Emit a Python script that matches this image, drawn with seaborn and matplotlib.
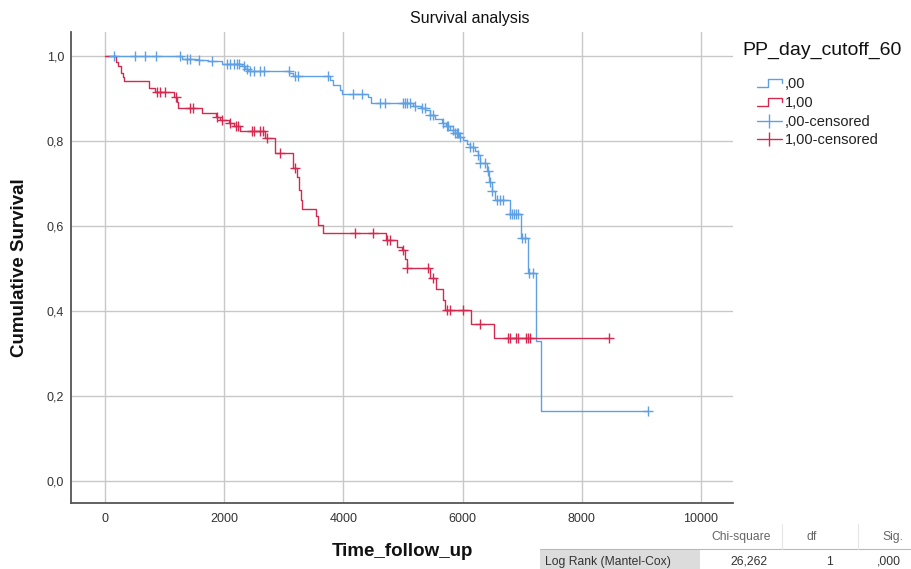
import numpy as np
import pandas as pd
import matplotlib
matplotlib.use("Agg")
import matplotlib.pyplot as plt
import seaborn as sns
from matplotlib.lines import Line2D
from matplotlib.patches import Rectangle
from matplotlib.legend_handler import HandlerBase

# ---------------- data ----------------
group_labels = [",00", "1,00"]
censor_labels = [",00-censored", "1,00-censored"]

g0_step_times = [1290, 1566, 1734, 1958, 2294, 2350, 2406, 3090, 3160, 3768, 3824, 3936, 3975,
                 4420, 4459, 5175, 5300, 5371, 5454, 5539, 5651, 5720, 5791, 5870, 5940, 6004,
                 6071, 6126, 6210, 6266, 6294, 6406, 6440, 6490, 6546, 6798, 6976, 7105, 7234, 7320]
g0_step_surv = [0.993, 0.990, 0.987, 0.980, 0.975, 0.969, 0.965, 0.959, 0.953, 0.943, 0.931, 0.919, 0.911,
                0.904, 0.890, 0.883, 0.878, 0.873, 0.861, 0.851, 0.842, 0.834, 0.826, 0.818, 0.810, 0.802,
                0.793, 0.785, 0.776, 0.767, 0.748, 0.728, 0.704, 0.681, 0.660, 0.627, 0.571, 0.489, 0.330, 0.165]
g0_censor_times = [151, 504, 671, 856, 1259, 1371, 1427, 1585, 1790, 2042, 2100, 2160, 2210, 2254,
                   2330, 2380, 2440, 2500, 2602, 2660, 3081, 3189, 3245, 3749, 4168, 4308, 4616, 4700,
                   5007, 5040, 5063, 5119, 5200, 5315, 5370, 5454, 5510, 5679, 5740, 5760, 5846, 5870,
                   5900, 5930, 5959, 6126, 6180, 6266, 6294, 6378, 6420, 6462, 6500, 6574, 6630, 6686,
                   6798, 6830, 6860, 6890, 6938, 6993, 7049, 7122, 7178, 9119]

g1_step_times = [185, 224, 263, 297, 320, 745, 840, 1158, 1200, 1231, 1625, 1866, 1933, 2073, 2157,
                 2269, 2686, 2853, 3150, 3217, 3262, 3290, 3312, 3536, 3581, 3665, 4716, 4895, 4990,
                 5035, 5063, 5455, 5555, 5667, 5706, 6137, 6534]
g1_step_surv = [0.986, 0.975, 0.959, 0.951, 0.940, 0.925, 0.916, 0.904, 0.891, 0.878, 0.865, 0.857,
                0.849, 0.842, 0.834, 0.823, 0.806, 0.771, 0.736, 0.716, 0.685, 0.661, 0.640, 0.622,
                0.602, 0.583, 0.567, 0.551, 0.542, 0.522, 0.500, 0.477, 0.451, 0.426, 0.402, 0.369, 0.337]
g1_censor_times = [868, 924, 1008, 1193, 1418, 1474, 1882, 1961, 2100, 2200, 2230, 2465, 2504, 2593,
                   2650, 2714, 2938, 3189, 4196, 4504, 4730, 4785, 4995, 5063, 5427, 5510, 5745, 5790,
                   6014, 6294, 6769, 6798, 6898, 6937, 7066, 7105, 7133, 8464]

x_ticks = [0, 2000, 4000, 6000, 8000, 10000]
y_ticks = [0.0, 0.2, 0.4, 0.6, 0.8, 1.0]
y_tick_labels = ["0,0", "0,2", "0,4", "0,6", "0,8", "1,0"]

table_header = ["Chi-square", "df", "Sig."]
table_row_label = "Log Rank (Mantel-Cox)"
table_values = ["26,262", "1", ",000"]

colors = {",00": "#5f9fe3", "1,00": "#d42a52"}

# ---------------- build tables ----------------
def step_frame(label, times, surv, censors):
    t = [0] + list(times) + [max(censors)]
    s = [1.0] + list(surv) + [surv[-1]]
    lines = pd.DataFrame({"time": t, "surv": s, "group": label})
    ta = np.array([0] + list(times))
    sa = np.array([1.0] + list(surv))
    idx = np.searchsorted(ta, np.array(censors), side="right") - 1
    cens = pd.DataFrame({"time": censors, "surv": sa[idx], "group": label})
    return lines, cens

l0, c0 = step_frame(group_labels[0], g0_step_times, g0_step_surv, g0_censor_times)
l1, c1 = step_frame(group_labels[1], g1_step_times, g1_step_surv, g1_censor_times)
lines_df = pd.concat([l0, l1], ignore_index=True)
cens_df = pd.concat([c0, c1], ignore_index=True)

# ---------------- figure ----------------
sns.set_style("white")
plt.rcParams["font.family"] = ["Liberation Sans", "DejaVu Sans"]

W, H = 912, 569
fig = plt.figure(figsize=(W / 100, H / 100), dpi=100)
ax = fig.add_axes([71 / W, 1 - 503 / H, (733 - 71) / W, (503 - 32) / H])

for g in group_labels:
    sub = lines_df[lines_df.group == g]
    sns.lineplot(data=sub, x="time", y="surv", ax=ax, color=colors[g], estimator=None,
                 sort=False, drawstyle="steps-post", linewidth=1.0, legend=False)
    cs = cens_df[cens_df.group == g]
    sns.scatterplot(data=cs, x="time", y="surv", ax=ax, color=colors[g], marker="+",
                    s=55, linewidth=1.0, legend=False, zorder=3)

ax.set_xlim(-571, 10540)
ax.set_ylim(-0.052, 1.056)
ax.set_xticks(x_ticks)
ax.set_xticklabels([str(v) for v in x_ticks])
ax.set_yticks(y_ticks)
ax.set_yticklabels(y_tick_labels)
ax.tick_params(axis="both", length=0, labelsize=9, colors="#333333")
ax.tick_params(axis="x", pad=7)
ax.tick_params(axis="y", pad=5)
ax.grid(True, color="#c8c8c8", linewidth=1.0)
ax.set_axisbelow(True)
for sp in ["top", "right"]:
    ax.spines[sp].set_visible(False)
ax.spines["left"].set_color("#555555")
ax.spines["left"].set_linewidth(1.3)
ax.spines["bottom"].set_color("#555555")
ax.spines["bottom"].set_linewidth(1.3)
ax.set_xlabel("")
ax.set_ylabel("")

fig.text(470 / W, 1 - 19 / H, "Survival analysis", ha="center", va="center", fontsize=11.5, color="#111111")
fig.text(402 / W, 1 - 551 / H, "Time_follow_up", ha="center", va="center", fontsize=13.5,
         fontweight="bold", color="#111111")
fig.text(20 / W, 1 - 268 / H, "Cumulative Survival", ha="center", va="center", rotation=90,
         fontsize=13.5, fontweight="bold", color="#111111")

# ---------------- legend ----------------
class HandlerStep(HandlerBase):
    def create_artists(self, legend, orig_handle, xdescent, ydescent, width, height, fontsize, trans):
        x0, y0 = -xdescent, -ydescent
        lo, hi = y0 + 0.1 * height, y0 + 0.9 * height
        xs = [x0, x0 + 0.45 * width, x0 + 0.45 * width, x0 + width, x0 + width]
        ys = [lo, lo, hi, hi, hi - 0.4 * height]
        ln = Line2D(xs, ys, color=orig_handle.get_color(), linewidth=1.0, transform=trans)
        return [ln]

h_line0 = Line2D([], [], color=colors[group_labels[0]])
h_line1 = Line2D([], [], color=colors[group_labels[1]])
h_c0 = Line2D([], [], color=colors[group_labels[0]], linewidth=1.0, marker="|", markersize=10, mew=1.0)
h_c1 = Line2D([], [], color=colors[group_labels[1]], linewidth=1.0, marker="|", markersize=10, mew=1.0)

fig.text(742 / W, 1 - 50 / H, "PP_day_cutoff_60", ha="left", va="center", fontsize=14, color="#111111")
leg = ax.legend([h_line0, h_line1, h_c0, h_c1], group_labels + censor_labels,
                handler_map={h_line0: HandlerStep(), h_line1: HandlerStep()},
                loc="upper left", bbox_to_anchor=(757 / W, 1 - 77 / H), bbox_transform=fig.transFigure,
                frameon=False, fontsize=10.5, handlelength=1.7, handletextpad=0.2,
                labelspacing=0.33, borderpad=0, borderaxespad=0, numpoints=1)
for t in leg.get_texts():
    t.set_color("#222222")

# ---------------- log-rank table ----------------
fig.add_artist(Rectangle((540 / W, 0), (700 - 540) / W, (569 - 549.5) / H,
                         transform=fig.transFigure, facecolor="#dcdcdc", edgecolor="none"))
fig.add_artist(Line2D([540 / W, 1], [1 - 549 / H, 1 - 549 / H], transform=fig.transFigure,
                      color="#b8b8b8", linewidth=0.8))
for vx in [782, 858]:
    fig.add_artist(Line2D([vx / W, vx / W], [1 - 549 / H, 1 - 524 / H], transform=fig.transFigure,
                          color="#e6e6e6", linewidth=0.8))
hy = 1 - 537 / H
ry = 1 - 562 / H
fs = 8.7
fig.text(771 / W, hy, table_header[0], ha="right", va="center", fontsize=fs, color="#666666")
fig.text(812 / W, hy, table_header[1], ha="center", va="center", fontsize=fs, color="#666666")
fig.text(903 / W, hy, table_header[2], ha="right", va="center", fontsize=fs, color="#666666")
fig.text(545 / W, ry, table_row_label, ha="left", va="center", fontsize=fs, color="#333333")
fig.text(768 / W, ry, table_values[0], ha="right", va="center", fontsize=fs, color="#333333")
fig.text(833 / W, ry, table_values[1], ha="right", va="center", fontsize=fs, color="#333333")
fig.text(901 / W, ry, table_values[2], ha="right", va="center", fontsize=fs, color="#333333")

fig.savefig("out.png", dpi=100)
